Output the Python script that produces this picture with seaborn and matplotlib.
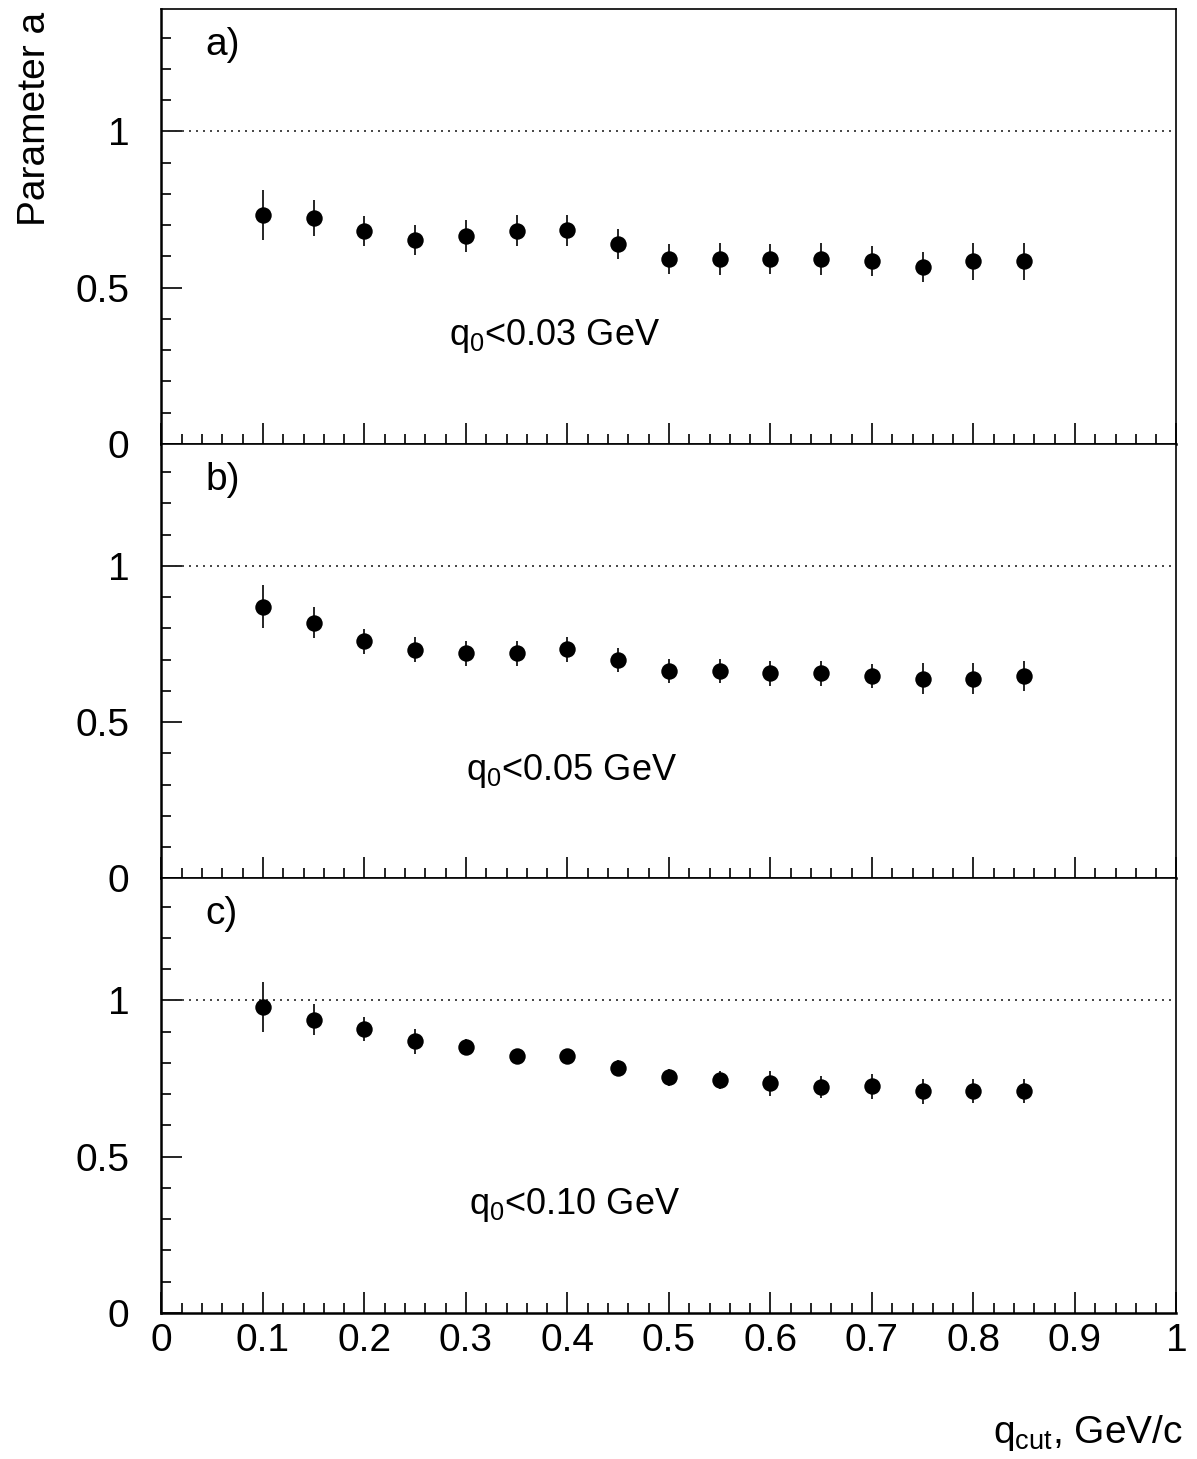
import numpy as np
import pandas as pd
import matplotlib
matplotlib.use("Agg")
import matplotlib.pyplot as plt
from matplotlib.ticker import MultipleLocator, FixedLocator
import seaborn as sns

# values
q_cut = [0.10, 0.15, 0.20, 0.25, 0.30, 0.35, 0.40, 0.45,
         0.50, 0.55, 0.60, 0.65, 0.70, 0.75, 0.80, 0.85]

a_q003 = [0.733, 0.723, 0.681, 0.652, 0.665, 0.682, 0.684, 0.641,
          0.592, 0.592, 0.592, 0.592, 0.584, 0.565, 0.584, 0.584]
err_q003 = [0.080, 0.059, 0.049, 0.048, 0.050, 0.050, 0.050, 0.048,
            0.048, 0.050, 0.049, 0.050, 0.048, 0.048, 0.060, 0.059]

a_q005 = [0.870, 0.818, 0.759, 0.731, 0.720, 0.720, 0.733, 0.700,
          0.664, 0.664, 0.656, 0.656, 0.647, 0.639, 0.639, 0.649]
err_q005 = [0.069, 0.050, 0.040, 0.040, 0.040, 0.040, 0.040, 0.038,
            0.038, 0.038, 0.040, 0.040, 0.039, 0.049, 0.049, 0.048]

a_q010 = [0.979, 0.938, 0.909, 0.869, 0.851, 0.821, 0.821, 0.785,
          0.754, 0.745, 0.735, 0.724, 0.726, 0.710, 0.710, 0.711]
err_q010 = [0.079, 0.049, 0.039, 0.040, 0.026, 0.024, 0.025, 0.025,
            0.028, 0.030, 0.040, 0.035, 0.040, 0.040, 0.038, 0.038]

panel_tags = ["a)", "b)", "c)"]
cut_labels = ["q$_0$<0.03 GeV", "q$_0$<0.05 GeV", "q$_0$<0.10 GeV"]
x_ticks = [0.0, 0.1, 0.2, 0.3, 0.4, 0.5, 0.6, 0.7, 0.8, 0.9, 1.0]
x_ticklabels = ["0", "0.1", "0.2", "0.3", "0.4", "0.5", "0.6", "0.7", "0.8", "0.9", "1"]
y_ticks = [0.0, 0.5, 1.0]
y_ticklabels = ["0", "0.5", "1"]

sns.set_theme(style="white")
plt.rcParams["font.family"] = ["Liberation Sans", "DejaVu Sans"]
plt.rcParams["mathtext.default"] = "regular"
plt.rcParams["text.color"] = "black"
plt.rcParams["xtick.color"] = "black"
plt.rcParams["ytick.color"] = "black"
plt.rcParams["axes.edgecolor"] = "black"

FS = 28
fig = plt.figure(figsize=(11.97, 14.59), dpi=100)

left, width = 0.1349, 0.8479
bottom0, height = 0.1001, 0.2978

series = [(a_q003, err_q003), (a_q005, err_q005), (a_q010, err_q010)]
text_x = [0.283, 0.300, 0.303]

for i, (vals, errs) in enumerate(series):
    b = bottom0 + (2 - i) * height
    ax = fig.add_axes([left, b, width, height])
    df = pd.DataFrame({"q_cut": q_cut, "a": vals, "err": errs})

    ax.axhline(1.0, color="0.15", lw=1.2, ls=(0, (1.2, 3.0)), zorder=1)
    ax.errorbar(df["q_cut"], df["a"], yerr=df["err"], fmt="none",
                ecolor="black", elinewidth=1.2, capsize=0, zorder=2)
    sns.scatterplot(data=df, x="q_cut", y="a", ax=ax, color="black",
                    s=140, linewidth=0, zorder=3, legend=False)

    ax.set_xlim(0, 1)
    ax.set_ylim(0, 1.39)
    ax.set_xlabel("")
    ax.set_ylabel("")

    ax.xaxis.set_major_locator(FixedLocator(x_ticks))
    ax.xaxis.set_minor_locator(MultipleLocator(0.02))
    ax.yaxis.set_major_locator(FixedLocator(y_ticks))
    ax.yaxis.set_minor_locator(MultipleLocator(0.1))
    ax.set_yticklabels(y_ticklabels)

    ax.tick_params(axis="both", which="both", direction="in", top=False, right=False,
                   bottom=True, left=True, color="black", width=1.2)
    ax.tick_params(axis="both", which="major", length=15)
    ax.tick_params(axis="both", which="minor", length=7.5)
    ax.tick_params(axis="y", which="major", pad=23, labelsize=FS, labelcolor="black")
    ax.tick_params(axis="x", which="major", pad=7, labelsize=FS, labelcolor="black")

    if i < 2:
        ax.set_xticklabels([])
    else:
        ax.set_xticklabels(x_ticklabels)

    for side in ["left", "bottom"]:
        ax.spines[side].set_linewidth(1.8)
        ax.spines[side].set_color("black")
    for side in ["top", "right"]:
        ax.spines[side].set_linewidth(1.2)
        ax.spines[side].set_color("black")

    ax.text(0.043, 1.275, panel_tags[i], fontsize=FS, va="center", ha="left")
    ax.text(text_x[i], 0.345, cut_labels[i], fontsize=26, va="center", ha="left")

fig.text(35 / 1197, 1 - 12 / 1459, "Parameter a", rotation=90, fontsize=FS,
         ha="center", va="top")
fig.text(1183 / 1197, 1 - 1433 / 1459, r"q$_{cut}$, GeV/c", fontsize=FS,
         ha="right", va="center")

fig.savefig("out.png", dpi=100)
